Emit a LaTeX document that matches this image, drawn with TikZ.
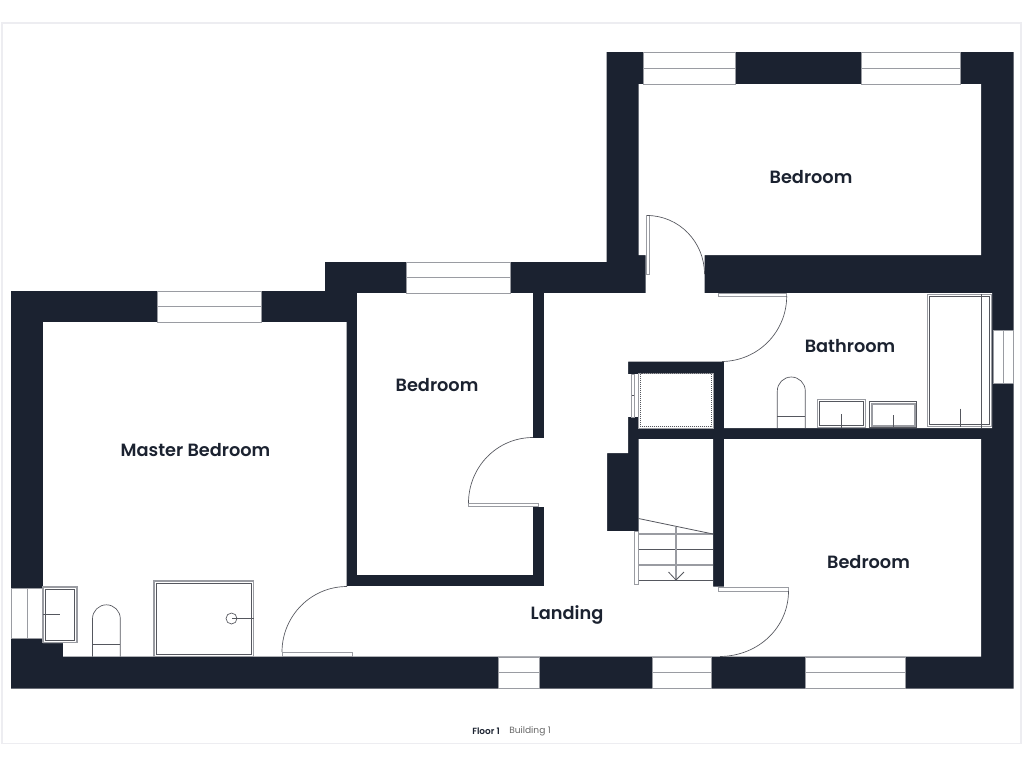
\documentclass[tikz,border=0pt]{standalone}
\usepackage{fontspec}
\setmainfont{Poppins}[BoldFont=* SemiBold]
\usepackage{tikz}
\definecolor{wallblue}{HTML}{1B2230}
\definecolor{edgegray}{HTML}{9A9CA2}
\definecolor{linegray}{HTML}{55575E}
\definecolor{framegray}{HTML}{EDEDF1}
\tikzset{
  wall/.style={fill=wallblue},
  room/.style={fill=white},
  pane/.style={fill=white,draw=edgegray,line width=0.6pt},
  fixture/.style={draw=linegray,line width=0.5pt},
  softfix/.style={draw=edgegray,line width=0.8pt},
  roomlabel/.style={font=\bfseries\fontsize{13.3}{14}\selectfont,text=wallblue,inner sep=0pt}
}

\begin{document}
\begin{tikzpicture}[x=0.75pt,y=-0.75pt]
        \useasboundingbox (0,0) rectangle (1024,768);
        \draw[framegray,line width=0.8pt] (2,23) rectangle (1021,743.5);
        % walls, then the rooms cut out of them
        \fill[wall] (606.5,52) -- (1013.5,52) -- (1013.5,688.5) -- (11,688.5) -- (11,291) -- (325,291) -- (325,262) -- (606.5,262) -- cycle;
        \fill[room] (43,322) -- (346.5,322) -- (346.5,586) -- (544,586) -- (544,293) -- (645.5,293) -- (645.5,255) -- (638.5,255) -- (638.5,84) -- (981,84) -- (981,255) -- (704.5,255) -- (704.5,293) -- (992,293) -- (992,428) -- (724,428) -- (724,361.5) -- (628,361.5) -- (628,453) -- (607,453) -- (607,531) -- (638.5,531) -- (638.5,439) -- (713,439) -- (713,586.7) -- (724,586.7) -- (724,439) -- (981,439) -- (981,656.7) -- (63,656.7) -- (63,643) -- (43,643) -- cycle;
        \fill[room] (357,293) rectangle (533,575);
        \fill[room] (532,437.5) rectangle (545,506.7);
        \fill[room] (638.5,373) rectangle (713,428);
        \fill[room] (627,374) rectangle (639,417);

        % windows along x
        \foreach \xa/\xb/\ya/\yb in {157/261/291/322, 406.5/510.5/262/293, 643.5/735.5/52/84, 861/960.5/52/84, 498/539.5/657/688, 652/711/657/688, 805/905/657/688}{
                \draw[pane] (\xa,\ya) rectangle (\xb,\yb);
                \draw[pane] (\xa,{(\ya+\yb)/2}) -- (\xb,{(\ya+\yb)/2});
        }
        % windows along y
        \foreach \xa/\xb/\ya/\yb in {11/43/588/638.5, 993/1013.5/330/383}{
                \draw[pane] (\xa,\ya) rectangle (\xb,\yb);
                \draw[pane] ({(\xa+\xb)/2},\ya) -- ({(\xa+\xb)/2},\yb);
        }

        % doors
        \draw[pane] (646,215.5) rectangle (649.3,274.5);
        \draw[fixture] (647,215.5) .. controls (679,215.5) and (704.5,242) .. (704.5,274);
        \draw[pane] (718,293.3) rectangle (786.7,296.7);
        \draw[fixture] (786.7,296) .. controls (786.7,332) and (758,361) .. (722,361.5);
        \draw[pane] (718.5,587) rectangle (788.5,591);
        \draw[fixture] (788.5,591) .. controls (788.5,627) and (759,656) .. (720,656.5);
        \draw[pane] (468.5,503) rectangle (538.5,506.7);
        \draw[fixture] (468.5,503) .. controls (468.5,467) and (497,437.5) .. (533,437.5);
        \draw[pane] (282,652.5) rectangle (352,656);
        \draw[fixture] (282,652) .. controls (282,616) and (311,586.5) .. (347,586.5);
        \draw[pane] (631,374) rectangle (634.5,417);
        \draw[fixture] (631.5,395) -- (634,395);

        % cupboard
        \draw[edgegray,line width=0.5pt] (638.5,373) rectangle (713,428);
        \draw[linegray,line width=0.5pt,densely dotted] (640.5,373.5) rectangle (711.7,426.5);

        % stairs
        \draw[fill=white,draw=edgegray,line width=0.6pt] (634.5,531) rectangle (638.5,584.5);
        \draw[softfix] (638.5,534) -- (713,534);
        \draw[fixture,line width=0.6pt] (638.5,549.5) -- (713,549.5);
        \draw[softfix] (638.5,565) -- (713,565);
        \draw[fixture,line width=0.6pt] (638.5,580.5) -- (713,580.5);
        \draw[fixture,line width=0.6pt] (638.5,518.5) -- (713,534);
        \draw[softfix] (676,526.5) -- (676,580);
        \draw[fixture,line width=0.6pt] (668.5,572) -- (676,580) -- (684,572);

        % master bedroom fittings
        \draw[softfix,fill=white] (43,587) rectangle (77,642.5);
        \draw[fixture] (45.3,589.3) rectangle (74.8,640.3);
        \draw[fixture] (43,614) -- (60,614);
        \draw[fixture] (92.5,656.7) -- (92.5,618.7) arc[start angle=180,end angle=360,radius=13.9] -- (120.3,656.7);
        \draw[fixture] (92.5,644.3) -- (120.3,644.3);
        \draw[softfix] (154,581) rectangle (253.5,656.5);
        \draw[fixture] (156.5,583.3) rectangle (251.5,654);
        \draw[fixture] (231.5,618.5) circle (5.5);
        \draw[fixture] (232,618.5) -- (253.5,618.5);

        % bathroom fittings
        \draw[fixture] (777.3,428) -- (777.3,391) arc[start angle=180,end angle=360,radius=14] -- (805.3,428);
        \draw[fixture] (777.3,416.3) -- (805.3,416.3);
        \draw[softfix] (817.3,399.3) rectangle (865.7,427.7);
        \draw[fixture] (819.8,401.8) rectangle (863.2,425.2);
        \draw[fixture] (841.5,414) -- (841.5,427.7);
        \draw[fixture] (869.3,401.3) rectangle (916.7,427.7);
        \draw[softfix] (872,404) rectangle (915,426);
        \draw[fixture] (893,415) -- (893,427.7);
        \draw[softfix] (927.3,294.3) rectangle (991.7,426.7);
        \draw[fixture] (929.5,296.5) rectangle (989.5,424.5);
        \draw[fixture] (981.7,294) -- (981.7,428);
        \draw[fixture] (960,408.5) -- (960,427);

        \node[roomlabel] (bedroomtop) at (811,177.5) {Bedroom};
        \node[roomlabel] (bathroom) at (850,346.5) {Bathroom};
        \node[roomlabel] (bedroommid) at (437,385) {Bedroom};
        \node[roomlabel] (master) at (195.5,450.5) {Master Bedroom};
        \node[roomlabel] (bedroomlow) at (868.5,562) {Bedroom};
        \node[roomlabel] (landing) at (567,614.5) {Landing};
        \node[inner sep=0pt,anchor=west,font=\bfseries\fontsize{6.7}{7}\selectfont,text=wallblue] (floorname) at (472,731) {Floor 1};
        \node[inner sep=0pt,anchor=west,font=\fontsize{6.8}{7}\selectfont,text=black!60] (buildingname) at (509,731) {Building 1};
\end{tikzpicture}
\end{document}
